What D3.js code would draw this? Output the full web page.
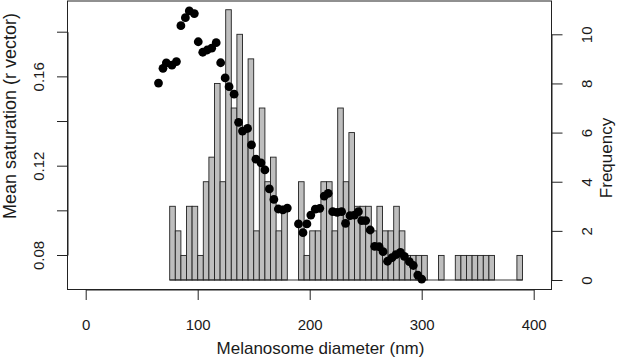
<!DOCTYPE html>
<html>
<head>
<meta charset="utf-8">
<script src="https://cdn.jsdelivr.net/npm/d3@7"></script>
<style>
  html, body { margin: 0; padding: 0; background: #fff; }
  svg text { font-family: "Liberation Sans", Arial, Helvetica, sans-serif; fill: #1a1a1a; }
</style>
</head>
<body>
<svg id="chart" width="617" height="359"></svg>
<script>
// histogram: lower edge of each 5 nm bin, and its count
const binLower = [75, 80, 85, 90, 95, 100, 105, 110, 115, 120, 125, 130, 135, 140, 145, 150,
  155, 160, 165, 170, 175, 180, 185, 190, 195, 200, 205, 210, 215, 220, 225, 230, 235, 240,
  245, 250, 255, 260, 265, 270, 275, 280, 285, 290, 295, 300, 305, 310, 315, 320, 325, 330,
  335, 340, 345, 350, 355, 360, 365, 370, 375, 380, 385];
const binCount = [3, 2, 1, 3, 3, 1, 4, 5, 8, 4, 11, 7, 10, 6, 9, 2,
  7, 4, 5, 2, 3, 0, 0, 4, 1, 2, 2, 4, 4, 2, 7, 4, 6, 3,
  3, 3, 2, 3, 2, 2, 3, 2, 1, 1, 1, 1, 0, 0, 1, 0, 0, 1,
  1, 1, 1, 1, 1, 1, 0, 0, 0, 0, 1];
const binWidth = 5;

// points: mean saturation against diameter
const dotDiameter = [65, 69, 72, 77, 81, 85, 89, 92.5, 97, 100.5, 104.5, 108.5, 112.5, 116.5,
  120.5, 124.5, 128, 132.5, 136.5, 140, 144.5, 148, 152, 156.5, 160, 164, 168, 172, 176, 180,
  190, 194, 197.5, 201, 205, 209, 213, 216.5, 220.5, 224.5, 228.5, 232, 236, 240, 243.5,
  246.5, 250, 254, 258, 262, 265.5, 269.5, 273.5, 277, 281, 284.5, 289, 292.5, 296.5, 300];
const dotSaturation = [0.157, 0.1636, 0.166, 0.165, 0.1666, 0.1827, 0.1863, 0.1893, 0.1881,
  0.1755, 0.1708, 0.1718, 0.1726, 0.1751, 0.1661, 0.1593, 0.1554, 0.152, 0.1394, 0.1355,
  0.1367, 0.1293, 0.1229, 0.1213, 0.1181, 0.1096, 0.1049, 0.1006, 0.1002, 0.101,
  0.0939, 0.09, 0.0939, 0.0979, 0.1005, 0.1009, 0.1064, 0.1076, 0.0994, 0.0991, 0.0994,
  0.0942, 0.0976, 0.0979, 0.0994, 0.0954, 0.0954, 0.0912, 0.0839, 0.0837, 0.0815, 0.0772,
  0.0788, 0.0802, 0.0812, 0.0794, 0.077, 0.0753, 0.071, 0.0692];

const xTicks = [0, 100, 200, 300, 400];
const satTicks = [0.08, 0.10, 0.12, 0.14, 0.16, 0.18];
const satLabels = ["0.08", "", "0.12", "", "0.16", ""];
const freqTicks = [0, 2, 4, 6, 8, 10];

const svg = d3.select("#chart");
const box = { left: 67.5, right: 551.5, top: 1, bottom: 289.5 };

const x = d3.scaleLinear().domain([0, 400]).range([85.7, 533.7]);
const ySat = d3.scaleLinear().domain([0.08, 0.18]).range([255, 31.7]);
const yFreq = d3.scaleLinear().domain([0, 10]).range([280, 34.3]);

// bars
const bars = binLower.map((lo, i) => ({ lo: lo, n: binCount[i] }));
svg.append("g").selectAll("rect")
  .data(bars.filter(d => d.n > 0))
  .join("rect")
  .attr("x", d => x(d.lo))
  .attr("y", d => yFreq(d.n))
  .attr("width", d => x(d.lo + binWidth) - x(d.lo))
  .attr("height", d => yFreq(0) - yFreq(d.n))
  .attr("fill", "#bebebe")
  .attr("stroke", "#222")
  .attr("stroke-width", 0.9);

// zero-height bins still show as a line along the base
svg.append("line")
  .attr("x1", x(binLower[0])).attr("x2", x(binLower[binLower.length - 1] + binWidth))
  .attr("y1", yFreq(0)).attr("y2", yFreq(0))
  .attr("stroke", "#222").attr("stroke-width", 0.9);

// points
svg.append("g").selectAll("circle")
  .data(dotDiameter.map((d, i) => [d, dotSaturation[i]]))
  .join("circle")
  .attr("cx", d => x(d[0]))
  .attr("cy", d => ySat(d[1]))
  .attr("r", 4.4)
  .attr("fill", "#000");

// frame
svg.append("rect")
  .attr("x", box.left).attr("y", box.top)
  .attr("width", box.right - box.left).attr("height", box.bottom - box.top)
  .attr("fill", "none").attr("stroke", "#222").attr("stroke-width", 1);

function styleAxis(g) {
  g.selectAll("path, line").attr("stroke", "#222").attr("stroke-width", 1);
  g.selectAll("text").attr("fill", "#1a1a1a")
    .style("font-family", "'Liberation Sans', Arial, Helvetica, sans-serif");
}

// bottom axis
svg.append("g")
  .attr("transform", `translate(0,${box.bottom})`)
  .call(d3.axisBottom(x).tickValues(xTicks).tickFormat(d3.format("d"))
    .tickSizeInner(10.5).tickSizeOuter(0).tickPadding(19))
  .call(g => g.selectAll("text").style("font-size", "15px"))
  .call(styleAxis);

// left axis (labels turned like R's las = 0)
svg.append("g")
  .attr("transform", `translate(${box.left},0)`)
  .call(d3.axisLeft(ySat).tickValues(satTicks).tickFormat((d, i) => satLabels[i])
    .tickSizeInner(10.5).tickSizeOuter(0))
  .call(g => g.selectAll("text")
    .attr("x", 0).attr("y", -23.5).attr("dy", null)
    .attr("text-anchor", "middle").attr("transform", "rotate(-90)")
    .style("font-size", "15px"))
  .call(styleAxis);

// right axis
svg.append("g")
  .attr("transform", `translate(${box.right},0)`)
  .call(d3.axisRight(yFreq).tickValues(freqTicks).tickFormat(d3.format("d"))
    .tickSizeInner(11).tickSizeOuter(0))
  .call(g => g.selectAll("text")
    .attr("x", 0).attr("y", 40).attr("dy", null)
    .attr("text-anchor", "middle").attr("transform", "rotate(-90)")
    .style("font-size", "15px"))
  .call(styleAxis);

// axis titles
svg.append("text")
  .attr("x", 320.5).attr("y", 354)
  .attr("text-anchor", "middle")
  .style("font-size", "17px")
  .text("Melanosome diameter (nm)");

svg.append("text")
  .attr("transform", "translate(16,116) rotate(-90)")
  .attr("text-anchor", "middle")
  .style("font-size", "18px")
  .text("Mean saturation (r vector)");

svg.append("text")
  .attr("transform", "translate(611.5,158) rotate(-90)")
  .attr("text-anchor", "middle")
  .style("font-size", "17px")
  .text("Frequency");
</script>
</body>
</html>
